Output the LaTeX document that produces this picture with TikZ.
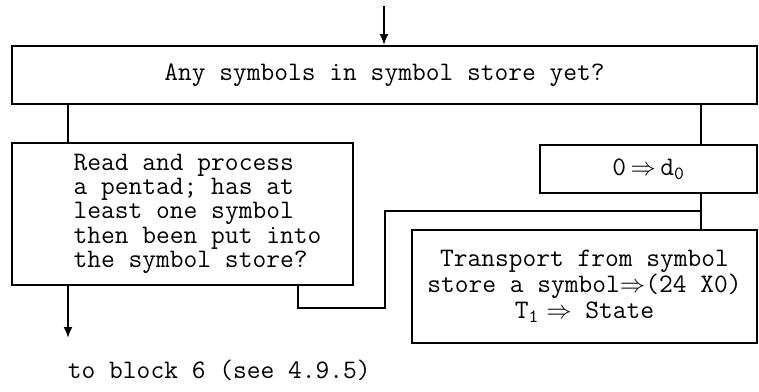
\documentclass[tikz,border=0pt]{standalone}
\usepackage{fontspec}
\usepackage{tikz}
\usetikzlibrary{arrows.meta}

\begin{document}
\begin{tikzpicture}[font=\ttfamily\fontsize{15.2}{13.9}\selectfont, line width=1.1pt,
  box/.style={draw, align=center, inner sep=2pt},
  arr/.style={-{Latex[length=2.2mm, width=1.8mm]}}]
  \useasboundingbox (0,0) rectangle (15.18,-7.82);
  \node[box, minimum width=14.9cm, minimum height=1.16cm] (any) at (7.69,-1.5) {Any symbols in symbol store yet?};
  \node[box, minimum width=6.82cm, minimum height=2.84cm] (read) at (3.65,-4.28)
    {\begin{tabular}{@{\hspace{6mm}}l@{}}Read and process\\a pentad; has at\\least one symbol\\then been put into\\the symbol store?\end{tabular}};
  \node[box, minimum width=4.34cm, minimum height=0.96cm] (dz) at (12.97,-3.38) {0\,$\Rightarrow$\,d$_{\mathtt{0}}$};
  \node[box, minimum width=6.9cm, minimum height=2.26cm, font=\ttfamily\fontsize{15.2}{14.8}\selectfont] (trans) at (11.69,-5.73)
    {Transport from symbol\\store a symbol$\Rightarrow$(24 X0)\\T$_{\mathtt{1}}\Rightarrow$ State};
  \node[anchor=west, inner sep=0pt] (dest) at (1.34,-7.4) {to block 6 (see 4.9.5)};
  \coordinate (in) at (7.68,-0.12);
  \coordinate (out) at (1.36,-6.76);
  \coordinate (jn) at (14.02,-4.22);
  \coordinate (bend) at (7.7,-6.16);
  \draw[arr] (in) -- (in |- any.north);
  \draw (out |- any.south) -- (out |- read.north);
  \draw (jn |- any.south) -- (jn |- dz.north);
  \draw (jn |- dz.south) -- (jn |- trans.north);
  \draw ([xshift=-1.12cm]read.south east) |- (bend) |- (jn);
  \draw[arr] (out |- read.south) -- (out);
\end{tikzpicture}
\end{document}
